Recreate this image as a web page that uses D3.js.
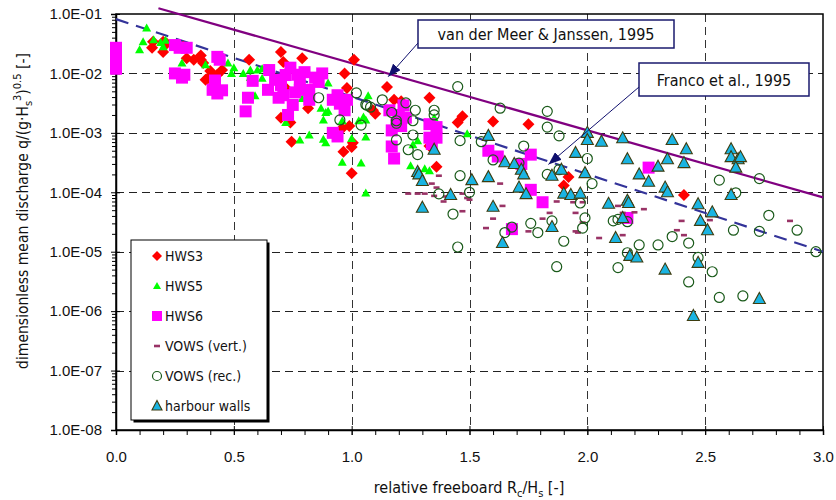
<!DOCTYPE html>
<html>
<head>
<meta charset="utf-8">
<script src="https://cdn.jsdelivr.net/npm/d3@7"></script>
<style>
  body { margin: 0; background: #fff; }
  svg { display: block; font-family: "DejaVu Sans Condensed", "DejaVu Sans", sans-serif; font-stretch: condensed; }
</style>
</head>
<body>
<svg id="chart" width="836" height="500"></svg>
<script>
// values: [Rc/Hs, q/(g*Hs^3)^0.5]
var hws3 = [
  [0.157,3.4e-2],[0.153,2.7e-2],[0.20,3.4e-2],[0.20,2.3e-2],[0.215,3.2e-2],[0.285,2.8e-2],
  [0.30,1.8e-2],[0.33,1.7e-2],[0.36,2.0e-2],[0.36,1.7e-2],[0.37,1.5e-2],[0.40,1.1e-2],
  [0.39,8.3e-3],[0.45,1.14e-2],[0.43,9.5e-3],[0.38,7.8e-3],[0.565,1.7e-2],[0.70,2.3e-2],
  [0.71,1.55e-2],[0.79,1.8e-2],[0.72,5.7e-3],[0.815,2.6e-3],[0.70,1.8e-3],[0.74,1.5e-3],
  [0.745,7.1e-4],[0.97,1.0e-2],[1.01,1.7e-2],[0.98,5.7e-3],[0.96,1.2e-3],[0.99,1.3e-3],
  [0.965,4.8e-4],[1.0,5.8e-4],[1.005,6.8e-4],[1.0,2.1e-4],[1.09,2.4e-3],[1.15,5.9e-3],
  [1.18,3.6e-3],[1.21,3.4e-3],[1.10,2.1e-3],[1.33,3.9e-3],[1.47,1.9e-3],[1.45,1.5e-3],
  [1.6,1.55e-3],[1.75,1.4e-3],[1.36,2.7e-4],[1.33,6.0e-4],[1.92,1.8e-4],[1.90,1.3e-4],
  [2.41,9.0e-5]
];
var hws5 = [
  [0.13,5.8e-2],[0.115,3.4e-2],[0.10,2.5e-2],[0.16,3.7e-2],[0.19,3.3e-2],[0.21,3.6e-2],
  [0.20,2.8e-2],[0.28,1.5e-2],[0.38,1.4e-2],[0.475,1.5e-2],[0.50,1.25e-2],[0.49,1.0e-2],
  [0.54,1.0e-2],[0.57,1.14e-2],[0.60,1.14e-2],[0.62,1.2e-2],[0.57,8.5e-3],[0.62,8.3e-3],
  [0.59,4.2e-3],[0.71,6.6e-3],[0.72,1.5e-3],[0.78,7.6e-4],[0.79,3.8e-3],[0.82,9.2e-4],
  [0.89,6.8e-4],[0.90,6.9e-3],[0.87,2.6e-3],[0.89,2.2e-3],[0.90,2.3e-3],[0.88,1.65e-3],
  [0.88,7.8e-4],[0.96,1.6e-3],[0.96,3.2e-4],[1.04,3.1e-4],[1.06,9.7e-5],[1.03,1.6e-3],
  [1.06,1.65e-3],[1.05,1.85e-3],[1.06,8.5e-4],[1.0,8.0e-4],[1.07,4.2e-3],[1.28,7.4e-4],
  [1.26,6.3e-4],[1.35,1.8e-3],[1.25,2.8e-4],[1.33,2.3e-4],[1.31,2.5e-4],[1.49,9.7e-4]
];
var hws6 = [
  [0.0,2.7e-2],[0.0,2.2e-2],[0.0,1.8e-2],[0.0,1.45e-2],[0.0,1.2e-2],[0.25,3.0e-2],
  [0.27,2.7e-2],[0.30,2.7e-2],[0.25,1.0e-2],[0.29,9.5e-3],[0.28,8.5e-3],[0.43,1.9e-2],
  [0.44,1.7e-2],[0.42,7.6e-3],[0.41,5.3e-3],[0.45,5.2e-3],[0.43,4.6e-3],[0.58,7.5e-3],
  [0.56,3.9e-3],[0.55,2.3e-3],[0.65,1.14e-2],[0.675,7.8e-3],[0.645,5.3e-3],[0.70,6.4e-3],
  [0.72,9.4e-3],[0.74,1.25e-2],[0.71,4.3e-3],[0.76,4.8e-3],[0.78,7.8e-3],[0.75,2.95e-3],
  [0.73,2.0e-3],[0.69,3.9e-3],[0.80,1.05e-2],[0.845,8.5e-3],[0.82,5.3e-3],[0.86,7.2e-3],
  [0.875,1.0e-2],[0.82,3.6e-3],[0.78,5.3e-3],[0.77,9.5e-3],[0.94,4.3e-3],[0.98,3.6e-3],
  [0.95,3.1e-3],[0.92,3.6e-3],[0.97,2.4e-3],[0.94,8.7e-4],[0.92,1.0e-3],[1.16,2.4e-3],
  [1.20,2.0e-3],[1.19,1.4e-3],[1.23,1.8e-3],[1.21,1.3e-3],[1.17,1.1e-3],[1.22,2.9e-3],
  [1.17,5.9e-4],[1.18,3.7e-4],[1.33,1.4e-3],[1.36,1.25e-3],[1.33,8.3e-4],[1.36,8.3e-4],
  [1.34,6.5e-4],[1.58,5.0e-4],[1.62,4.0e-4],[1.76,4.3e-4],[1.72,3.0e-4],[1.76,1.1e-4],
  [1.81,6.8e-5],[1.68,2.4e-5],[2.17,3.7e-5],[2.26,2.6e-4]
];
var vowsVert = [
  [1.24,9.5e-5],[1.28,9.5e-5],[1.31,9.5e-5],[1.37,1.9e-4],[1.34,1.4e-4],[1.36,1.2e-4],
  [1.35,8.7e-5],[1.39,7.0e-5],[1.40,8.5e-5],[1.47,9.5e-5],[1.47,4.8e-5],[1.49,8.0e-5],
  [1.50,7.5e-5],[1.63,1.4e-4],[1.64,5.9e-5],[1.60,3.6e-5],[1.57,2.5e-5],[1.84,4.5e-5],
  [1.81,3.6e-5],[1.87,7.0e-5],[1.94,6.8e-5],[1.98,6.8e-5],[1.95,4.5e-5],[1.95,2.2e-5],
  [1.96,2.1e-5],[1.75,2.2e-5],[1.98,3.1e-5],[2.05,1.7e-5],[2.15,1.9e-5],[2.13,5.9e-5],
  [2.15,4.5e-5],[2.20,4.6e-5],[2.24,5.2e-5],[2.40,3.3e-5],[2.38,2.3e-5],[2.41,1.9e-5],
  [2.52,3.4e-5],[2.86,3.3e-5]
];
var vowsRec = [
  [0.86,3.9e-3],[1.02,4.7e-3],[0.95,1.65e-3],[1.04,1.35e-3],[1.06,3.0e-3],[1.08,2.7e-3],
  [1.065,2.9e-3],[1.13,3.6e-3],[1.17,2.2e-3],[1.19,1.6e-3],[1.19,1.45e-3],[1.19,7.6e-4],
  [1.23,3.2e-3],[1.26,1.6e-3],[1.26,9.2e-4],[1.27,2.4e-3],[1.24,5.2e-4],[1.28,4.3e-4],
  [1.35,2.4e-3],[1.35,2.0e-3],[1.45,6.0e-3],[1.46,7.4e-4],[1.63,2.6e-3],[1.83,2.3e-3],
  [1.83,1.25e-3],[1.88,8.9e-4],[1.55,7.1e-4],[1.73,6.0e-4],[1.60,3.5e-4],[1.71,3.1e-4],
  [2.0,3.7e-4],[1.88,2.4e-4],[1.46,1.9e-4],[1.37,9.4e-5],[1.50,1.0e-4],[1.83,2.0e-4],
  [2.02,1.4e-4],[1.97,6.6e-5],[1.43,4.3e-5],[1.68,2.6e-5],[1.65,2.1e-5],[1.76,3.0e-5],
  [1.79,2.1e-5],[1.85,3.3e-5],[1.90,1.5e-5],[1.98,2.5e-5],[1.99,3.7e-5],[2.11,3.3e-5],
  [2.13,3.5e-5],[2.17,3.2e-5],[2.22,1.3e-5],[2.30,1.3e-5],[2.36,1.8e-5],[2.43,1.4e-5],
  [2.56,1.6e-4],[2.63,9.8e-5],[2.73,1.7e-4],[2.62,2.3e-5],[2.73,2.2e-5],[2.77,4.1e-5],
  [2.89,2.3e-5],[2.97,1.0e-5],[1.45,1.2e-5],[1.87,5.6e-6],[2.13,5.4e-6],[2.17,9.6e-6],
  [2.47,8.0e-6],[2.53,4.6e-6],[2.43,3.1e-6],[2.56,1.7e-6],[2.66,1.8e-6]
];
var harbour = [
  [1.35,5.2e-4],[1.28,2.2e-4],[1.285,2.0e-4],[1.30,1.55e-4],[1.30,5.5e-5],[1.42,9.0e-5],
  [1.51,1.6e-4],[1.58,8.9e-4],[1.58,1.8e-4],[1.60,5.7e-5],[1.65,3.2e-4],[1.69,3.0e-4],
  [1.72,2.4e-4],[1.73,2.0e-4],[1.71,1.2e-4],[1.74,9.3e-5],[1.64,1.4e-5],[1.89,2.4e-4],
  [1.85,1.9e-4],[1.85,2.6e-5],[1.95,4.6e-4],[1.99,2.1e-4],[1.90,9.5e-5],[1.93,9.0e-5],
  [1.97,9.5e-5],[2.00,1.0e-3],[2.00,7.6e-4],[2.06,7.1e-4],[2.15,8.1e-4],[2.17,3.6e-4],
  [2.22,2.0e-4],[2.26,1.5e-4],[2.09,6.4e-5],[2.17,7.2e-5],[2.175,6.6e-5],[2.15,3.7e-5],
  [2.12,1.7e-5],[2.30,2.7e-4],[2.34,3.6e-4],[2.36,7.6e-4],[2.41,3.1e-4],[2.42,5.3e-4],
  [2.33,1.2e-4],[2.34,1.0e-4],[2.47,6.3e-5],[2.48,3.3e-5],[2.51,2.3e-5],[2.53,4.6e-5],
  [2.61,5.3e-4],[2.61,3.9e-4],[2.64,3.6e-4],[2.65,3.9e-4],[2.63,2.6e-4],[2.61,9.0e-5],
  [2.18,8.5e-6],[2.21,8.0e-6],[2.33,5.0e-6],[2.47,6.5e-6],[2.73,1.6e-6],[2.45,8.3e-7]
];
// formula lines, end points only (straight on a log axis)
var vdmLine = [[0.18,0.125],[3.0,8.2e-5]];
var francoLine = [[0.0,0.082],[3.0,1.0e-5]];

var xTicks = [0,0.5,1,1.5,2,2.5,3];
var xTickLabels = ["0.0","0.5","1.0","1.5","2.0","2.5","3.0"];
var yTicks = [1e-8,1e-7,1e-6,1e-5,1e-4,1e-3,1e-2,1e-1];
var yTickLabels = ["1.0E-08","1.0E-07","1.0E-06","1.0E-05","1.0E-04","1.0E-03","1.0E-02","1.0E-01"];
var legendNames = ["HWS3","HWS5","HWS6","VOWS (vert.)","VOWS (rec.)","harbour walls"];

var svg = d3.select("#chart");
var x = d3.scaleLinear().domain([0, 3]).range([116, 823]);
var y = d3.scaleLog().domain([1e-8, 1e-1]).range([430, 14]);

// grid
var grid = svg.append("g");
grid.selectAll(".hg").data(yTicks.slice(1, -1)).enter().append("line")
    .attr("x1", x(0)).attr("x2", x(3))
    .attr("y1", function(d) { return Math.round(y(d)) + 0.5; })
    .attr("y2", function(d) { return Math.round(y(d)) + 0.5; })
    .attr("stroke", "#222").attr("stroke-dasharray", "8,5");
grid.selectAll(".vg").data(xTicks.slice(1, -1)).enter().append("line")
    .attr("y1", y(1e-1)).attr("y2", y(1e-8))
    .attr("x1", function(d) { return Math.round(x(d)) + 0.5; })
    .attr("x2", function(d) { return Math.round(x(d)) + 0.5; })
    .attr("stroke", "#333").attr("stroke-dasharray", "8,5");

// frame
svg.append("rect").attr("x", x(0)).attr("y", y(1e-1))
    .attr("width", x(3) - x(0)).attr("height", y(1e-8) - y(1e-1))
    .attr("fill", "none").attr("stroke", "#000").attr("stroke-width", 1.5);

// axes
var minors = [];
yTicks.slice(0, -1).forEach(function(t) { for (var k = 2; k < 10; k++) minors.push(t * k); });
svg.append("g").attr("transform", "translate(" + x(0) + ",0)")
    .call(d3.axisLeft(y).tickValues(yTicks).tickSize(5).tickPadding(9)
        .tickFormat(function(d, i) { return yTickLabels[i]; }));
svg.append("g").attr("transform", "translate(" + x(0) + ",0)")
    .call(d3.axisLeft(y).tickValues(minors).tickSize(4).tickFormat(""))
    .select(".domain").remove();
svg.append("g").attr("transform", "translate(" + x(0) + ",0)")
    .call(d3.axisRight(y).tickValues(yTicks).tickSize(4).tickFormat(""))
    .select(".domain").remove();

var xMinor = d3.range(0, 31).map(function(i) { return i / 10; });
svg.append("g").attr("transform", "translate(0," + y(1e-8) + ")")
    .call(d3.axisBottom(x).tickValues(xTicks).tickSize(5).tickPadding(16)
        .tickFormat(function(d, i) { return xTickLabels[i]; }));
svg.append("g").attr("transform", "translate(0," + y(1e-8) + ")")
    .call(d3.axisBottom(x).tickValues(xMinor).tickSize(5).tickFormat(""))
    .select(".domain").remove();
svg.append("g").attr("transform", "translate(0," + y(1e-8) + ")")
    .call(d3.axisTop(x).tickValues(xTicks).tickSize(4).tickFormat(""))
    .select(".domain").remove();

svg.selectAll(".domain").attr("stroke-width", 1.5);
svg.selectAll(".tick text").attr("font-size", 15).attr("font-family", null).attr("fill", "#111");
svg.selectAll(".tick line").attr("stroke", "#000");

// axis titles
var yt = svg.append("text").attr("transform", "translate(28,211) rotate(-90)")
    .attr("text-anchor", "middle").attr("font-size", 15.5).attr("fill", "#111");
yt.append("tspan").text("dimensionless mean discharge q/(g\u00B7H");
yt.append("tspan").attr("font-size", 11).attr("dy", 4).text("s");
yt.append("tspan").attr("font-size", 11).attr("dy", -11).text("3");
yt.append("tspan").attr("dy", 7).text(")");
yt.append("tspan").attr("font-size", 11).attr("dy", -7).text("0.5");
yt.append("tspan").attr("dy", 7).text(" [-]");

var xt = svg.append("text").attr("x", 469).attr("y", 493)
    .attr("text-anchor", "middle").attr("font-size", 16).attr("fill", "#111");
xt.append("tspan").text("relative freeboard R");
xt.append("tspan").attr("font-size", 11).attr("dy", 4).text("c");
xt.append("tspan").attr("dy", -4).text("/H");
xt.append("tspan").attr("font-size", 11).attr("dy", 4).text("s");
xt.append("tspan").attr("dy", -4).text(" [-]");

// formula lines
var line = d3.line().x(function(d) { return x(d[0]); }).y(function(d) { return y(d[1]); });
svg.append("path").datum(vdmLine).attr("d", line)
    .attr("fill", "none").attr("stroke", "#800080").attr("stroke-width", 2.2);
svg.append("path").datum(francoLine).attr("d", line)
    .attr("fill", "none").attr("stroke", "#333399").attr("stroke-width", 2.2)
    .attr("stroke-dasharray", "13,8");

// markers
var shapes = {
  hws3: function(g) { g.append("path").attr("d", "M0,-6L6,0L0,6L-6,0Z").attr("fill", "#ff0000"); },
  hws5: function(g) { g.append("path").attr("d", "M0,-4.5L4.5,3.5L-4.5,3.5Z").attr("fill", "#00ff00"); },
  hws6: function(g) { g.append("rect").attr("x", -6).attr("y", -6).attr("width", 12).attr("height", 12).attr("fill", "#ff00ff"); },
  vert: function(g) { g.append("rect").attr("x", -3).attr("y", -1.3).attr("width", 6).attr("height", 2.6).attr("fill", "#993366"); },
  rec: function(g) { g.append("circle").attr("r", 5).attr("fill", "none").attr("stroke", "#1a5a1a").attr("stroke-width", 1.2); },
  harbour: function(g) { g.append("path").attr("d", "M0,-6.5L6,4.5L-6,4.5Z").attr("fill", "#1ab4e2").attr("stroke", "#3d3d10").attr("stroke-width", 1.1); }
};
function drawSeries(data, shape) {
  svg.append("g").selectAll("g").data(data).enter().append("g")
      .attr("transform", function(d) { return "translate(" + x(d[0]) + "," + y(d[1]) + ")"; })
      .each(function() { shapes[shape](d3.select(this)); });
}
drawSeries(hws3, "hws3");
drawSeries(hws5, "hws5");
drawSeries(hws6, "hws6");
drawSeries(vowsVert, "vert");
drawSeries(vowsRec, "rec");
drawSeries(harbour, "harbour");

// annotation boxes with arrows
var defs = svg.append("defs");
defs.append("marker").attr("id", "arr").attr("markerUnits", "userSpaceOnUse")
    .attr("markerWidth", 14).attr("markerHeight", 10).attr("refX", 13).attr("refY", 5)
    .attr("orient", "auto")
  .append("path").attr("d", "M0,0L13,5L0,10Z").attr("fill", "#10106e");

function logAt(pts, xv) {
  var t = (xv - pts[0][0]) / (pts[1][0] - pts[0][0]);
  return Math.pow(10, Math.log10(pts[0][1]) + t * (Math.log10(pts[1][1]) - Math.log10(pts[0][1])));
}
function callout(label, bx, by, bw, bh, ax, ay, tipX, pts) {
  svg.append("line").attr("x1", ax).attr("y1", ay)
      .attr("x2", x(tipX)).attr("y2", y(logAt(pts, tipX)) + 3)
      .attr("stroke", "#10106e").attr("stroke-width", 1).attr("marker-end", "url(#arr)");
  svg.append("rect").attr("x", bx).attr("y", by).attr("width", bw).attr("height", bh)
      .attr("fill", "#fff").attr("stroke", "#1a1a6e").attr("stroke-width", 1.5);
  svg.append("text").attr("x", bx + bw / 2).attr("y", by + bh / 2 + 6)
      .attr("text-anchor", "middle").attr("font-size", 16).attr("fill", "#111").text(label);
}
callout("van der Meer & Janssen, 1995", 418, 20, 256, 28, 418, 43, 1.155, vdmLine);
callout("Franco et al., 1995", 639, 63, 170, 33, 639, 87, 1.835, francoLine);

// legend
var lg = svg.append("g").attr("transform", "translate(131,240)");
lg.append("rect").attr("x", 2.5).attr("y", 2.5).attr("width", 136).attr("height", 180).attr("fill", "#000");
lg.append("rect").attr("width", 136).attr("height", 180).attr("fill", "#fff").attr("stroke", "#000");
var keys = ["hws3", "hws5", "hws6", "vert", "rec", "harbour"];
var legendShapes = {
  hws3: function(g) { g.append("path").attr("d", "M0,-5L5,0L0,5L-5,0Z").attr("fill", "#ff0000"); },
  hws5: function(g) { g.append("path").attr("d", "M0,-4L4,3L-4,3Z").attr("fill", "#00ff00"); },
  hws6: function(g) { g.append("rect").attr("x", -5).attr("y", -5).attr("width", 10).attr("height", 10).attr("fill", "#ff00ff"); },
  vert: shapes.vert,
  rec: function(g) { g.append("circle").attr("r", 4.5).attr("fill", "none").attr("stroke", "#1a5a1a").attr("stroke-width", 1.2); },
  harbour: function(g) { g.append("path").attr("d", "M0,-5.5L5,4L-5,4Z").attr("fill", "#1ab4e2").attr("stroke", "#3d3d10").attr("stroke-width", 1.1); }
};
keys.forEach(function(k, i) {
  var row = lg.append("g").attr("transform", "translate(26," + (16 + i * 30) + ")");
  legendShapes[k](row);
  row.append("text").attr("x", 8).attr("y", 5).attr("font-size", 14).attr("fill", "#111").text(legendNames[i]);
});
</script>
</body>
</html>
